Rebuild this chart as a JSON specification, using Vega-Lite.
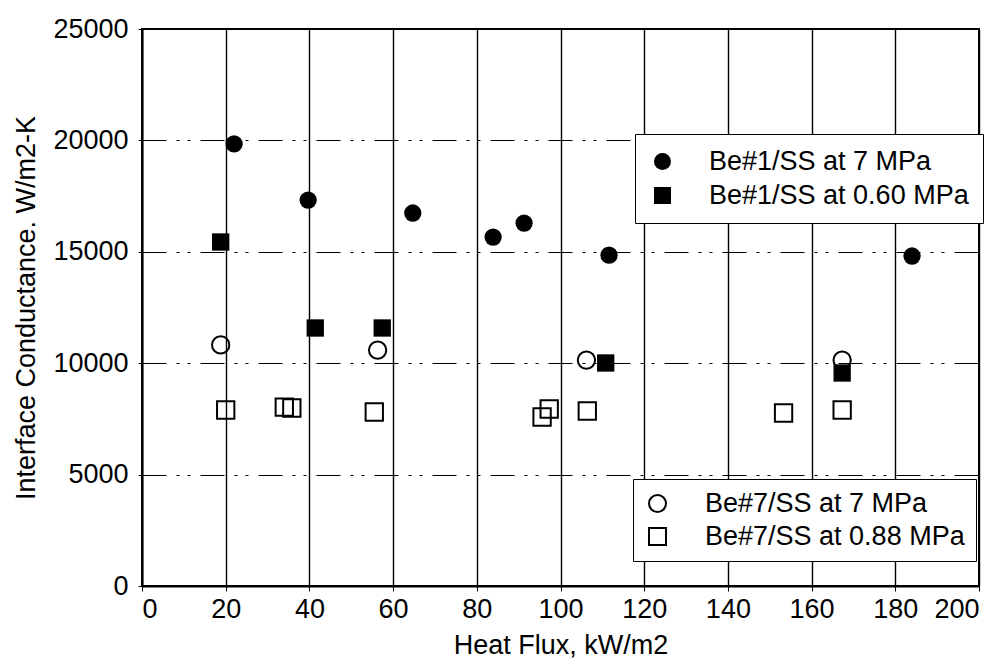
{
  "$schema": "https://vega.github.io/schema/vega-lite/v6.json",
  "width": 837,
  "height": 557,
  "autosize": {"type": "none"},
  "padding": {"left": 142, "top": 29, "right": 25, "bottom": 79},
  "background": "white",
  "config": {
    "view": {"stroke": "black", "strokeWidth": 2},
    "font": "Liberation Sans"
  },
  "datasets": {
    "be1": [
      {"series": "Be#1/SS at 7 MPa", "flux": 22.0, "g": 19840},
      {"series": "Be#1/SS at 7 MPa", "flux": 39.7, "g": 17320},
      {"series": "Be#1/SS at 7 MPa", "flux": 64.7, "g": 16740},
      {"series": "Be#1/SS at 7 MPa", "flux": 83.9, "g": 15660},
      {"series": "Be#1/SS at 7 MPa", "flux": 91.3, "g": 16290},
      {"series": "Be#1/SS at 7 MPa", "flux": 111.6, "g": 14850},
      {"series": "Be#1/SS at 7 MPa", "flux": 184.0, "g": 14810},
      {"series": "Be#1/SS at 0.60 MPa", "flux": 18.8, "g": 15440},
      {"series": "Be#1/SS at 0.60 MPa", "flux": 41.4, "g": 11580},
      {"series": "Be#1/SS at 0.60 MPa", "flux": 57.4, "g": 11580},
      {"series": "Be#1/SS at 0.60 MPa", "flux": 110.8, "g": 10010},
      {"series": "Be#1/SS at 0.60 MPa", "flux": 167.3, "g": 9560}
    ],
    "be7": [
      {"series": "Be#7/SS at 7 MPa", "flux": 18.8, "g": 10820},
      {"series": "Be#7/SS at 7 MPa", "flux": 56.3, "g": 10590},
      {"series": "Be#7/SS at 7 MPa", "flux": 106.2, "g": 10140},
      {"series": "Be#7/SS at 7 MPa", "flux": 167.3, "g": 10140},
      {"series": "Be#7/SS at 0.88 MPa", "flux": 20.0, "g": 7900},
      {"series": "Be#7/SS at 0.88 MPa", "flux": 34.0, "g": 8030},
      {"series": "Be#7/SS at 0.88 MPa", "flux": 35.8, "g": 7990},
      {"series": "Be#7/SS at 0.88 MPa", "flux": 55.5, "g": 7810},
      {"series": "Be#7/SS at 0.88 MPa", "flux": 95.6, "g": 7585},
      {"series": "Be#7/SS at 0.88 MPa", "flux": 97.3, "g": 7945},
      {"series": "Be#7/SS at 0.88 MPa", "flux": 106.4, "g": 7855},
      {"series": "Be#7/SS at 0.88 MPa", "flux": 153.3, "g": 7765},
      {"series": "Be#7/SS at 0.88 MPa", "flux": 167.3, "g": 7900}
    ]
  },
  "encoding": {
    "x": {
      "field": "flux", "type": "quantitative",
      "scale": {"domain": [0, 200], "nice": false},
      "axis": {
        "values": [0, 20, 40, 60, 80, 100, 120, 140, 160, 180, 200],
        "format": "d",
        "title": "Heat Flux, kW/m2",
        "titleFont": "Liberation Sans",
        "titleFontSize": 27,
        "titleFontWeight": "normal",
        "titleColor": "black",
        "titlePadding": 10,
        "labelFont": "Liberation Sans",
        "labelFontSize": 27,
        "labelColor": "black",
        "labelPadding": 5,
        "domainColor": "black",
        "domainWidth": 2,
        "tickColor": "black",
        "tickSize": 5,
        "grid": true, "gridColor": "black", "gridWidth": 1.4, "gridOpacity": 1
      }
    },
    "y": {
      "field": "g", "type": "quantitative",
      "scale": {"domain": [0, 25000], "nice": false},
      "axis": {
        "values": [0, 5000, 10000, 15000, 20000, 25000],
        "format": "d",
        "title": "Interface Conductance. W/m2-K",
        "titleFont": "Liberation Sans",
        "titleFontSize": 27,
        "titleFontWeight": "normal",
        "titleColor": "black",
        "titlePadding": 12,
        "labelFont": "Liberation Sans",
        "labelFontSize": 27,
        "labelColor": "black",
        "labelPadding": 10,
        "domainColor": "black",
        "domainWidth": 2,
        "tickColor": "black",
        "tickSize": 4,
        "grid": true, "gridColor": "black", "gridWidth": 1.1, "gridOpacity": 1,
        "gridDash": [24, 10, 3, 8, 3, 10]
      }
    }
  },
  "layer": [
    {
      "data": {"name": "be1"},
      "mark": {"type": "point", "filled": true, "size": 300, "color": "black", "opacity": 1},
      "encoding": {
        "shape": {
          "field": "series", "type": "nominal",
          "scale": {"domain": ["Be#1/SS at 7 MPa", "Be#1/SS at 0.60 MPa"], "range": ["circle", "square"]},
          "legend": {
            "title": null,
            "orient": "none",
            "legendX": 493,
            "legendY": 105,
            "labelFont": "Liberation Sans",
            "labelFontSize": 27,
            "labelColor": "black",
            "labelOffset": 33,
            "symbolSize": 289,
            "symbolFillColor": "black",
            "symbolStrokeColor": "black",
            "symbolOpacity": 1,
            "rowPadding": 6,
            "padding": 14,
            "strokeColor": "black",
            "fillColor": "white",
            "labelLimit": 500,
            "encode": {"legend": {"update": {"strokeWidth": {"value": 2}}}}
          }
        }
      }
    },
    {
      "data": {"name": "be7"},
      "mark": {"type": "point", "filled": false, "size": 300, "color": "black", "strokeWidth": 2, "opacity": 1},
      "encoding": {
        "shape": {
          "field": "series", "type": "nominal",
          "scale": {"domain": ["Be#7/SS at 7 MPa", "Be#7/SS at 0.88 MPa"], "range": ["circle", "square"]},
          "legend": {
            "title": null,
            "orient": "none",
            "legendX": 491,
            "legendY": 450,
            "labelFont": "Liberation Sans",
            "labelFontSize": 27,
            "labelColor": "black",
            "labelOffset": 34,
            "symbolSize": 289,
            "symbolFillColor": "white",
            "symbolStrokeColor": "black",
            "symbolStrokeWidth": 2,
            "symbolOpacity": 1,
            "rowPadding": 5,
            "padding": 11,
            "strokeColor": "black",
            "fillColor": "white",
            "labelLimit": 500,
            "encode": {"legend": {"update": {"strokeWidth": {"value": 2}}}}
          }
        }
      }
    }
  ],
  "resolve": {"scale": {"shape": "independent"}, "legend": {"shape": "independent"}}
}
